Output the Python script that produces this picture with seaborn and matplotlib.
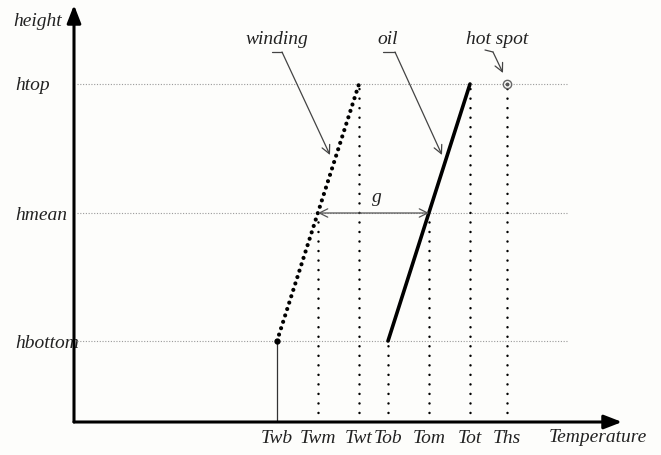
import matplotlib
matplotlib.use("Agg")
import matplotlib.pyplot as plt
import seaborn as sns
import pandas as pd

# ---- data (schematic units: 1 unit ~ 10 px) ----
temp_names = ["Twb", "Twm", "Twt", "Tob", "Tom", "Tot", "Ths"]
temp_values = [20.3, 24.4, 28.5, 31.4, 35.5, 39.6, 43.3]
height_names = ["hbottom", "hmean", "htop"]
height_values = [8.1, 20.9, 33.8]
# vertical guide for each temperature reaches this height
temp_heights = [8.1, 20.9, 33.8, 8.1, 20.9, 33.8, 33.8]

winding_T = [20.3, 28.5]
winding_h = [8.1, 33.8]
oil_T = [31.4, 39.6]
oil_h = [8.1, 33.8]
hotspot_T = [43.3]
hotspot_h = [33.8]

sns.set_theme(style="white")
plt.rcParams['font.family'] = ['Liberation Serif', 'DejaVu Serif']
plt.rcParams['font.style'] = 'italic'

W, H = 661, 455
fig = plt.figure(figsize=(W / 100, H / 100), dpi=100, facecolor="#fdfdfb")
x0, y0 = 74, 422
ax = fig.add_axes([x0 / W, (H - y0) / H, (W - x0) / W, y0 / H])
ax.set_facecolor("#fdfdfb")
ax.set_xlim(0, (W - x0) / 10)
ax.set_ylim(0, y0 / 10)
for s in ax.spines.values():
    s.set_visible(False)

FS = 14
TC = "#222222"

# horizontal gray dotted guides
ax.hlines(height_values, 0.3, 49.3, colors="#9a9a9a", lw=0.8,
          linestyles=(0, (1, 1.5)), zorder=1)

# vertical guides
for name, t, h in zip(temp_names, temp_values, temp_heights):
    if name == "Twb":
        ax.vlines(t, 0, h, colors="#333333", lw=0.9, zorder=2)
    else:
        ax.plot([t, t], [0, h], color="black", lw=1.8,
                linestyle=(0, (0.01, 3.8)), dash_capstyle="round", zorder=2)

# winding (dotted thick) and oil (solid thick)
dfw = pd.DataFrame({"T": winding_T, "h": winding_h})
dfo = pd.DataFrame({"T": oil_T, "h": oil_h})
sns.lineplot(data=dfw, x="T", y="h", ax=ax, color="black", lw=3.0,
             linestyle=(0, (0.01, 1.6)), dash_capstyle="round",
             sort=False, estimator=None, zorder=3)
sns.lineplot(data=dfo, x="T", y="h", ax=ax, color="black", lw=2.6,
             sort=False, estimator=None, zorder=3)
ax.plot(winding_T[0], winding_h[0], "o", color="black", ms=3.5, zorder=4)

# hot spot marker
ax.plot(hotspot_T, hotspot_h, "o", mfc="none", mec="#666666", mew=1.0, ms=6, zorder=4)
ax.plot(hotspot_T, hotspot_h, "o", color="#555555", ms=1.8, zorder=4)

# gradient g arrow
ax.annotate("", xy=(temp_values[4], height_values[1]),
            xytext=(temp_values[1], height_values[1]),
            arrowprops=dict(arrowstyle="<->,head_length=0.5,head_width=0.25",
                            color="#555555", lw=0.9, shrinkA=0, shrinkB=0), zorder=5)
ax.text(30.3, 22.4, "g", fontsize=FS, ha="center", va="center", color=TC)

# axes arrows
ax.annotate("", xy=(54.8, 0), xytext=(0, 0),
            arrowprops=dict(arrowstyle="-|>,head_length=0.9,head_width=0.35",
                            color="black", lw=2.2, shrinkA=0, shrinkB=0),
            annotation_clip=False)
ax.annotate("", xy=(0, 41.7), xytext=(0, 0),
            arrowprops=dict(arrowstyle="-|>,head_length=0.9,head_width=0.35",
                            color="black", lw=2.2, shrinkA=0, shrinkB=0),
            annotation_clip=False)

# ticks
ax.set_xticks(temp_values, labels=temp_names)
ax.set_yticks(height_values, labels=height_names)
ax.tick_params(axis="x", length=0, pad=6, labelsize=FS, labelcolor=TC)
ax.tick_params(axis="y", length=0, pad=42.5, labelsize=FS, labelcolor=TC)
for lab in ax.get_yticklabels():
    lab.set_ha("left")
for lab in ax.get_xticklabels() + ax.get_yticklabels():
    lab.set_fontstyle("italic")

ax.text(-6.1, 40.0, "height", fontsize=FS, ha="left", va="center", clip_on=False, color=TC)
ax.text(52.4, -1.6, "Temperature", fontsize=FS, ha="center", va="center", clip_on=False, color=TC)

# leader annotations
leader = dict(arrowstyle="->,head_length=0.5,head_width=0.25", color="#444444",
              lw=0.9, shrinkA=0, shrinkB=0)
for label, tx, start, bend, tip in [
    ("winding", 20.3, (19.8, 37.0), (20.8, 37.0), (25.6, 26.7)),
    ("oil", 31.4, (30.9, 37.0), (32.1, 37.0), (36.8, 26.7)),
    ("hot spot", 42.3, (41.1, 37.2), (41.9, 37.0), (42.9, 34.9)),
]:
    ax.text(tx, 38.2, label, fontsize=FS, ha="center", va="center", color=TC)
    ax.plot([start[0], bend[0]], [start[1], bend[1]], color="#444444", lw=0.9)
    ax.annotate("", xy=tip, xytext=bend, arrowprops=leader)

ax.set_xlabel("")
ax.set_ylabel("")
fig.savefig("out.png", dpi=100, facecolor=fig.get_facecolor())
